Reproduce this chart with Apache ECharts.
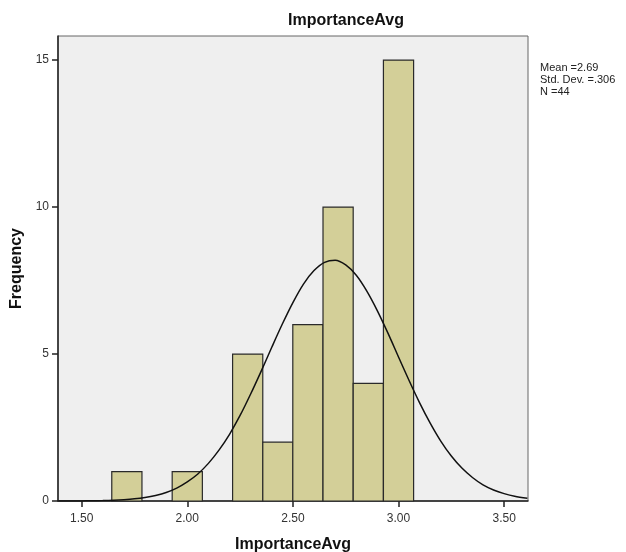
<!DOCTYPE html>
<html><head><meta charset="utf-8">
<script src="https://cdn.jsdelivr.net/npm/echarts@6/dist/echarts.min.js"></script>
<style>html,body{margin:0;padding:0;background:#fff}#c{width:626px;height:552px}</style>
</head><body><div id="c"></div>
<script>
var binCenters = [1.714, 2.000, 2.286, 2.429, 2.571, 2.714, 2.857, 3.000];
var binWidth = 0.1429;
var counts = [1, 1, 5, 2, 6, 10, 4, 15];
var curveX = [1.39, 1.45, 1.5, 1.55, 1.6, 1.65, 1.7, 1.75, 1.8, 1.85, 1.9, 1.95, 2.0, 2.05, 2.1, 2.15, 2.2, 2.25, 2.3, 2.35, 2.4, 2.45, 2.5, 2.55, 2.6, 2.65, 2.7, 2.75, 2.8, 2.85, 2.9, 2.95, 3.0, 3.05, 3.1, 3.15, 3.2, 3.25, 3.3, 3.35, 3.4, 3.45, 3.5, 3.55, 3.61];
var curveY = [0.001, 0.002, 0.004, 0.008, 0.014, 0.025, 0.044, 0.073, 0.12, 0.19, 0.29, 0.44, 0.65, 0.92, 1.28, 1.73, 2.27, 2.91, 3.64, 4.42, 5.23, 6.02, 6.75, 7.38, 7.84, 8.12, 8.19, 8.03, 7.68, 7.14, 6.47, 5.71, 4.90, 4.10, 3.34, 2.65, 2.04, 1.53, 1.12, 0.80, 0.55, 0.375, 0.25, 0.158, 0.09];
var xTicks = [1.5, 2.0, 2.5, 3.0, 3.5];
var yTicks = [0, 5, 10, 15];
var statsText = ['Mean =2.69', 'Std. Dev. =.306', 'N =44'];

var chart = echarts.init(document.getElementById('c'), null, {renderer: 'canvas'});
var barData = binCenters.map(function (c, i) { return [c - binWidth / 2, c + binWidth / 2, counts[i]]; });
var curveData = curveX.map(function (x, i) { return [x, curveY[i]]; });
var font = 'Liberation Sans, Arial, sans-serif';
chart.setOption({
  animation: false,
  textStyle: {fontFamily: font},
  title: [
    {text: 'ImportanceAvg', left: 341, top: 8, textAlign: 'center',
     textStyle: {fontSize: 16, fontWeight: 'bold', color: '#111', fontFamily: font}},
    {text: statsText.join('\n'), left: 535, top: 57,
     textStyle: {fontSize: 11, fontWeight: 'normal', color: '#222', lineHeight: 12, fontFamily: font}}
  ],
  grid: {left: 58, top: 36, width: 470, height: 465, outerBoundsMode: 'none', containLabel: false,
    show: true, backgroundColor: '#efefef', borderColor: '#666', borderWidth: 1},
  xAxis: {
    type: 'value', min: 1.388, max: 3.613,
    name: 'ImportanceAvg', nameLocation: 'middle', nameGap: 36,
    nameTextStyle: {fontSize: 16, fontWeight: 'bold', color: '#111', fontFamily: font},
    splitLine: {show: false},
    axisLine: {show: true, lineStyle: {color: '#222', width: 1.5}},
    axisTick: {show: true, length: 6, lineStyle: {color: '#222', width: 1.5}, customValues: xTicks},
    axisLabel: {color: '#333', fontSize: 12, margin: 12, customValues: xTicks,
      formatter: function (v) { return v.toFixed(2); }}
  },
  yAxis: {
    type: 'value', min: 0, max: 15.82,
    name: 'Frequency', nameLocation: 'middle', nameGap: 27, nameRotate: 90,
    nameTextStyle: {fontSize: 16, fontWeight: 'bold', color: '#111', fontFamily: font},
    splitLine: {show: false},
    axisLine: {show: true, lineStyle: {color: '#222', width: 1.5}},
    axisTick: {show: true, length: 6, lineStyle: {color: '#222', width: 1.5}, customValues: yTicks},
    axisLabel: {color: '#333', fontSize: 12, margin: 9, customValues: yTicks}
  },
  series: [
    {
      type: 'custom',
      data: barData,
      renderItem: function (params, api) {
        var p0 = api.coord([api.value(0), 0]);
        var p1 = api.coord([api.value(1), api.value(2)]);
        return {
          type: 'rect',
          shape: {x: p0[0], y: p1[1], width: p1[0] - p0[0], height: p0[1] - p1[1]},
          style: {fill: '#d3cf98', stroke: '#2a2a2a', lineWidth: 1.2}
        };
      },
      encode: {x: [0, 1], y: 2}
    },
    {
      type: 'line', data: curveData, smooth: 0.3, showSymbol: false,
      lineStyle: {color: '#111', width: 1.5}, z: 5
    }
  ]
});
</script></body></html>
